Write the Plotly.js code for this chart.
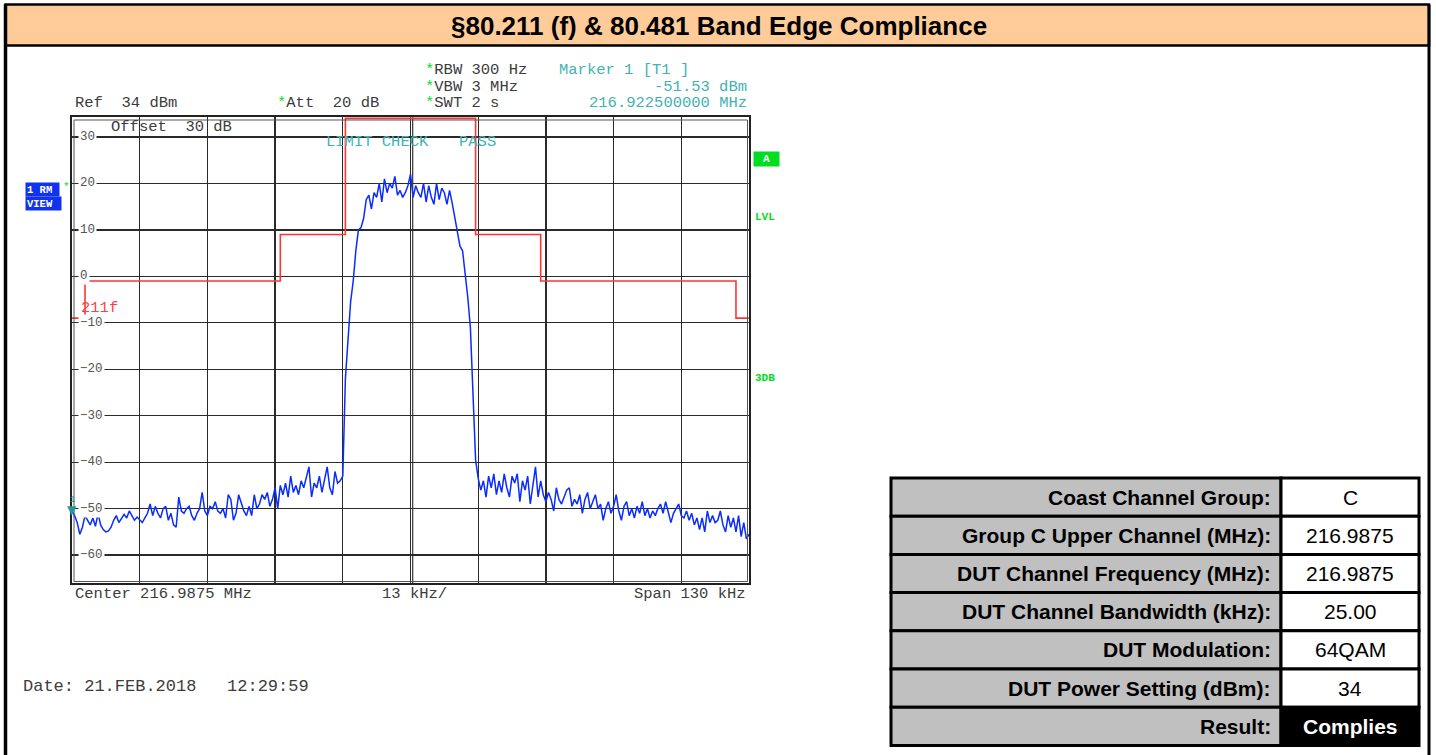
<!DOCTYPE html>
<html><head><meta charset="utf-8">
<script src="https://cdn.plot.ly/plotly-3.0.1.min.js"></script>
<style>html,body{margin:0;padding:0;background:#fff;overflow:hidden}#chart{width:1436px;height:755px}</style>
</head><body><div id="chart"></div>
<script>
// ---------------- data ----------------
const centerMHz = 216.9875;
const spanKHz = 130;          // x axis: offset from centre, kHz (-65 .. 65), 13 kHz/div
const traceDbm = [
  // -65 .. -13 kHz (0.5 kHz sweep step)
  -50.5,-51.5,-53,-55.5,-54,-51.5,-52.5,-53.5,-52,-53.8,-51,
  -53.5,-54.5,-55,-54.8,-54,-52.5,-51.5,-53,-52,-51.2,
  -52,-50.5,-51.5,-52.5,-51.8,-52.5,-53,-52,-51,-49,
  -51.5,-49.5,-51,-52,-50,-49.5,-52.5,-51,-53.5,-54,
  -47.5,-50.5,-51,-50,-49.5,-51.5,-52.5,-51,-50,-46.5,
  -50.5,-51.5,-49.5,-50,-48.5,-50.5,-51,-50,-52,-47,
  -48,-52.5,-51,-47,-49,-50.5,-51.5,-49.5,-51.5,-47,
  -50,-49,-47,-48,-46.5,-49.5,-48,-45.5,-50,-45,
  -47,-44.5,-47.5,-43,-46.5,-45,-47,-44,-45.5,-43.5,
  -41,-47.5,-44.5,-45.5,-43,-46.5,-44,-41,-45.5,-47,
  -42,-44.5,-44,-43,
  // -12.5 .. 13 kHz (channel)
  -22,-12.5,-5.5,-1,5.5,10,10.5,12.5,16.5,17.5,
  14.5,18,17,20,16,21,18,20,19,21.5,
  17.5,18.5,17,18,19.5,22,17,19.5,18,17,
  20,16,19.5,17,15.5,20,16.5,19,18,15.5,
  18.5,15.8,12.5,10,6.5,5.5,1,-4.5,-11,-24,
  -39.5,-43.5,
  // 13.5 .. 65 kHz
  -46,-44,-47.5,-43,
  -45.5,-42.5,-47,-44,-46.5,-42.5,-45.5,-47.5,-43,-44.5,
  -42.5,-48.5,-44,-46,-43,-49,-44.5,-41,-47.5,-44,
  -47,-48.5,-46.5,-48,-50.5,-45.5,-48,-49,-47.5,-46,
  -45.5,-49.5,-48,-49,-47,-51,-48,-46.5,-50,-48.5,
  -47,-50,-49,-52.5,-50,-48.5,-51,-49.5,-47,-50.5,
  -52.5,-49.5,-48.5,-51.5,-50,-52,-49.5,-51,-48.5,-51.5,
  -50,-52,-50.5,-51.5,-50,-49,-51,-48.5,-50.5,-53,
  -51,-50,-49,-51.5,-52,-50.5,-52.5,-51,-53.5,-52,
  -54.5,-52,-55,-50.5,-53,-51.5,-53,-52.5,-50.5,-53.5,
  -55,-51.5,-54,-52,-55,-51.5,-56,-53,-56.5,-55.5
];
const limitFreqKHz = [-65, -62.5, -25, -12.5, 12.5, 25, 62.5, 65];
const limitDbm     = [-9, -1, 9, 34, 9, -1, -9, -9];
const yTickValues  = [30, 20, 10, 0, -10, -20, -30, -40, -50, -60];
const marker1FreqKHz = -65;
const marker1Dbm = -51.53;
const tableLabels = ['Coast Channel Group:', 'Group C Upper Channel (MHz):', 'DUT Channel Frequency (MHz):',
  'DUT Channel Bandwidth (kHz):', 'DUT Modulation:', 'DUT Power Setting (dBm):', 'Result:'];
const tableValues = ['C', '216.9875', '216.9875', '25.00', '64QAM', '34', 'Complies'];

// ---------------- helpers ----------------
const traceFreqKHz = traceDbm.map((_, i) => -spanKHz / 2 + i * spanKHz / (traceDbm.length - 1));
const L = 72, R = 749, T = 117, B = 583;
const X = p => (p - L) / (R - L);
const Y = p => (B - p) / (B - T);
const MONO = 'Liberation Mono, DejaVu Sans Mono, monospace';
const SANS = 'Liberation Sans, Arial, sans-serif';
const GRAYTXT = '#3c3c3c', TEAL = '#3fb2b2', GREEN = '#00dd22';
const star = '<span style="color:' + GREEN + '">*</span>';
const nb = s => s.replace(/ /g, '\u00a0');

const ann = [];
function txt(text, px, py, opt) {
  opt = opt || {};
  ann.push(Object.assign({
    xref: 'paper', yref: 'paper', x: X(px), y: Y(py), text: text, showarrow: false,
    xanchor: 'left', yanchor: 'middle',
    font: {family: MONO, size: 15.5, color: GRAYTXT}
  }, opt));
}

// instrument texts
txt(nb('Ref  34 dBm'), 73, 103);
txt(star + nb('Att  20 dB'), 275, 103);
txt(star + nb('RBW 300 Hz'), 423, 70);
txt(star + nb('VBW 3 MHz'), 423, 87);
txt(star + nb('SWT 2 s'), 423, 103);
txt(nb('Marker 1 [T1 ]'), 557, 70, {font: {family: MONO, size: 15.5, color: TEAL}});
txt(nb('-51.53 dBm'), 749, 87, {xanchor: 'right', font: {family: MONO, size: 15.5, color: TEAL}});
txt(nb('216.922500000 MHz'), 749, 103, {xanchor: 'right', font: {family: MONO, size: 15.5, color: TEAL}});
txt(nb('Offset  30 dB'), 109, 127);
txt(nb('LIMIT CHECK'), 324, 142, {font: {family: MONO, size: 15.5, color: TEAL}});
txt('PASS', 457, 142, {font: {family: MONO, size: 15.5, color: TEAL}});
txt('211f', 79, 308, {font: {family: MONO, size: 15.5, color: '#ff4040'}});
txt(nb('Center 216.9875 MHz'), 73, 594);
txt(nb('13 kHz/'), 380, 594);
txt(nb('Span 130 kHz'), 748, 594, {xanchor: 'right'});
txt(nb('Date: 21.FEB.2018   12:29:59'), 21, 686, {font: {family: MONO, size: 17, color: GRAYTXT}});

// side boxes
txt('<b>1 RM</b>', 25, 189, {bgcolor: '#1133ee', width: 31, height: 11, borderpad: 1, align: 'left',
  font: {family: MONO, size: 10.5, color: '#ffffff'}});
txt('*', 61, 187, {font: {family: MONO, size: 11, color: GREEN}});
txt('<b>VIEW</b>', 25, 203.5, {bgcolor: '#1133ee', width: 33, height: 11, borderpad: 1, align: 'left',
  font: {family: MONO, size: 10.5, color: '#ffffff'}});
txt('<b>A</b>', 752.5, 158.5, {bgcolor: GREEN, width: 23, height: 12, borderpad: 1,
  font: {family: MONO, size: 11, color: '#ffffff'}});
txt('<b>LVL</b>', 753, 217, {font: {family: MONO, size: 11, color: GREEN}});
txt('<b>3DB</b>', 753, 378, {font: {family: MONO, size: 11, color: GREEN}});

// y tick labels (drawn on the grid lines, inside the frame)
yTickValues.forEach(v => {
  ann.push({xref: 'paper', yref: 'y', x: X(78), y: v, xanchor: 'left', yanchor: 'middle', showarrow: false,
    text: v < 0 ? '\u2212' + Math.abs(v) : String(v), bgcolor: '#ffffff', borderpad: 1,
    font: {family: MONO, size: 12.5, color: '#555555'}});
});

// marker 1
ann.push({xref: 'x', yref: 'y', x: marker1FreqKHz, y: marker1Dbm, text: '\u25BC', showarrow: false,
  xanchor: 'center', yanchor: 'bottom', yshift: -3, font: {family: 'DejaVu Sans', size: 12, color: '#1a9c9c'}});
ann.push({xref: 'x', yref: 'y', x: marker1FreqKHz, y: marker1Dbm, text: '1', showarrow: false,
  xanchor: 'center', yanchor: 'bottom', yshift: 9, font: {family: MONO, size: 9, color: '#1a9c9c'}});

// header
ann.push({xref: 'paper', yref: 'paper', x: X(719), y: Y(26), text: '<b>\u00a780.211 (f) &amp; 80.481 Band Edge Compliance</b>',
  showarrow: false, xanchor: 'center', yanchor: 'middle', font: {family: SANS, size: 26, color: '#000000'}});

const shapes = [];
function rect(x0, y0, x1, y1, fill, lc, lw) {
  shapes.push({type: 'rect', xref: 'paper', yref: 'paper', x0: X(x0), x1: X(x1), y0: Y(y0), y1: Y(y1),
    fillcolor: fill, line: {color: lc, width: lw}, layer: 'above'});
}
function line(x0, y0, x1, y1, lc, lw) {
  shapes.push({type: 'line', xref: 'paper', yref: 'paper', x0: X(x0), x1: X(x1), y0: Y(y0), y1: Y(y1),
    line: {color: lc, width: lw}, layer: 'above'});
}
// page frame + header band
rect(5.5, 4.5, 1429, 45.5, '#ffcc99', '#000000', 2.5);
line(5.5, 4.5, 5.5, 760, '#000000', 3.5);
line(1429, 4.5, 1429, 760, '#000000', 3);
// inner double frame of the analyser screen
rect(74, 120, 747.5, 581.5, 'rgba(0,0,0,0)', '#555555', 1);
// double centre line
shapes.push({type: 'line', xref: 'x', yref: 'paper', x0: 0.42, x1: 0.42, y0: 0, y1: 1,
  line: {color: '#333333', width: 1.2}, layer: 'below'});

// table
const rowTop = 478, rowH = 38.2, cL = 891, cM = 1281, cR = 1419;
tableLabels.forEach((lab, r) => {
  const y0 = rowTop + r * rowH, y1 = y0 + rowH;
  const last = r === tableLabels.length - 1;
  rect(cL, y0, cM, y1, '#c0c0c0', '#000000', 3);
  rect(cM, y0, cR, y1, last ? '#000000' : '#ffffff', '#000000', 3);
  ann.push({xref: 'paper', yref: 'paper', x: X(1273), y: Y(y0 + rowH / 2), text: '<b>' + lab + '</b>',
    showarrow: false, xanchor: 'right', yanchor: 'middle', font: {family: SANS, size: 21, color: '#000000'}});
  ann.push({xref: 'paper', yref: 'paper', x: X((cM + cR) / 2), y: Y(y0 + rowH / 2),
    text: last ? '<b>' + tableValues[r] + '</b>' : tableValues[r],
    showarrow: false, xanchor: 'center', yanchor: 'middle',
    font: {family: SANS, size: 21, color: last ? '#ffffff' : '#000000'}});
});

const data = [
  {type: 'scatter', mode: 'lines', x: limitFreqKHz, y: limitDbm, line: {shape: 'hv', color: '#ff3535', width: 1.6},
   hoverinfo: 'skip', name: 'limit'},
  {type: 'scatter', mode: 'lines', x: traceFreqKHz, y: traceDbm, line: {color: '#0a2cff', width: 1.5},
   hoverinfo: 'skip', name: 'trace'}
];

const layout = {
  width: 1436, height: 755, showlegend: false,
  paper_bgcolor: '#ffffff', plot_bgcolor: '#ffffff',
  margin: {l: L, r: 1436 - R, t: T, b: 755 - B, pad: 0},
  xaxis: {range: [-spanKHz / 2, spanKHz / 2], tick0: -65, dtick: 13, showticklabels: false, ticks: '',
    showgrid: true, gridcolor: '#2a2a2a', gridwidth: 1.3, zeroline: false,
    showline: true, mirror: true, linecolor: '#222222', linewidth: 2},
  yaxis: {range: [-66, 34.3], tick0: -60, dtick: 10, showticklabels: false, ticks: '',
    showgrid: true, gridcolor: '#2a2a2a', gridwidth: 1.3, zeroline: false,
    showline: true, mirror: true, linecolor: '#222222', linewidth: 2},
  annotations: ann, shapes: shapes
};

Plotly.newPlot('chart', data, layout, {staticPlot: true, displayModeBar: false});
</script>
</body></html>
